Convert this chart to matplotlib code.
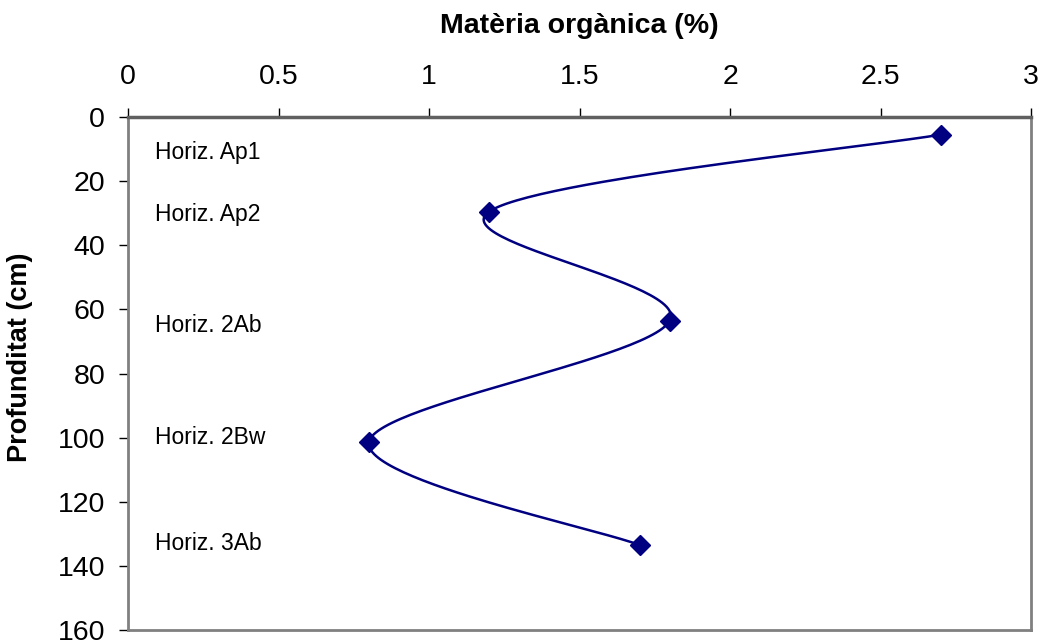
import numpy as np
import matplotlib
matplotlib.use("Agg")
import matplotlib.pyplot as plt

plt.rcParams['font.family'] = ['Liberation Sans', 'DejaVu Sans']

organic_matter = [2.7, 1.2, 1.8, 0.8, 1.7]
depth = [5.5, 29.5, 63.5, 101.5, 133.5]
horizon_labels = ["Horiz. Ap1", "Horiz. Ap2", "Horiz. 2Ab", "Horiz. 2Bw", "Horiz. 3Ab"]
label_depths = [11, 30.5, 65, 100, 133]
label_x = 0.09
x_ticks = [0, 0.5, 1, 1.5, 2, 2.5, 3]
y_ticks = [0, 20, 40, 60, 80, 100, 120, 140, 160]

fig = plt.figure(figsize=(10.42, 6.41), dpi=100)
ax = fig.add_axes([128/1042, 1-630/641, (1031-128)/1042, (630-117)/641])
ax.set_xlim(0, 3)
ax.set_ylim(160, 0)

line_color = '#000080'
gray = '#808080'

# Excel-like smoothed line (Catmull-Rom Bezier in display space)
fig.canvas.draw()
pts = ax.transData.transform(np.column_stack([organic_matter, depth]))
n = len(pts)
curve = []
for i in range(n - 1):
    p0 = pts[i - 1] if i > 0 else pts[i]
    p1 = pts[i]
    p2 = pts[i + 1]
    p3 = pts[i + 2] if i + 2 < n else pts[i + 1]
    c1 = p1 + (p2 - p0) / 6.0
    c2 = p2 - (p3 - p1) / 6.0
    t = np.linspace(0, 1, 60)[:, None]
    seg = ((1 - t) ** 3) * p1 + 3 * ((1 - t) ** 2) * t * c1 + 3 * (1 - t) * t ** 2 * c2 + t ** 3 * p2
    curve.append(seg if i == 0 else seg[1:])
curve = np.vstack(curve)
curve_data = ax.transData.inverted().transform(curve)
ax.plot(curve_data[:, 0], curve_data[:, 1], color=line_color, lw=1.8, zorder=3)
ax.plot(organic_matter, depth, linestyle='none', marker='D', markersize=10,
        color=line_color, zorder=4)

for lab, yd in zip(horizon_labels, label_depths):
    ax.text(label_x, yd, lab, fontsize=16.5, va='center', ha='left', color='black')

ax.xaxis.tick_top()
ax.xaxis.set_label_position('top')
ax.set_xticks(x_ticks)
ax.set_xticklabels([f"{v:g}" for v in x_ticks])
ax.set_yticks(y_ticks)
ax.tick_params(axis='both', direction='out', length=6.5, width=1, color='black',
               labelsize=20.5)
ax.tick_params(axis='y', pad=10)
ax.tick_params(axis='x', pad=13)
ax.set_xlabel("Matèria orgànica (%)", fontsize=20.5, fontweight='bold', labelpad=22)
ax.set_ylabel("Profunditat (cm)", fontsize=19.5, fontweight='bold')
ax.yaxis.set_label_coords(-0.105, 0.532)

for side in ['left', 'right', 'bottom']:
    ax.spines[side].set_color(gray)
    ax.spines[side].set_linewidth(2)
ax.spines['top'].set_color('#606060')
ax.spines['top'].set_linewidth(2.5)

fig.savefig("out.png", dpi=100)
